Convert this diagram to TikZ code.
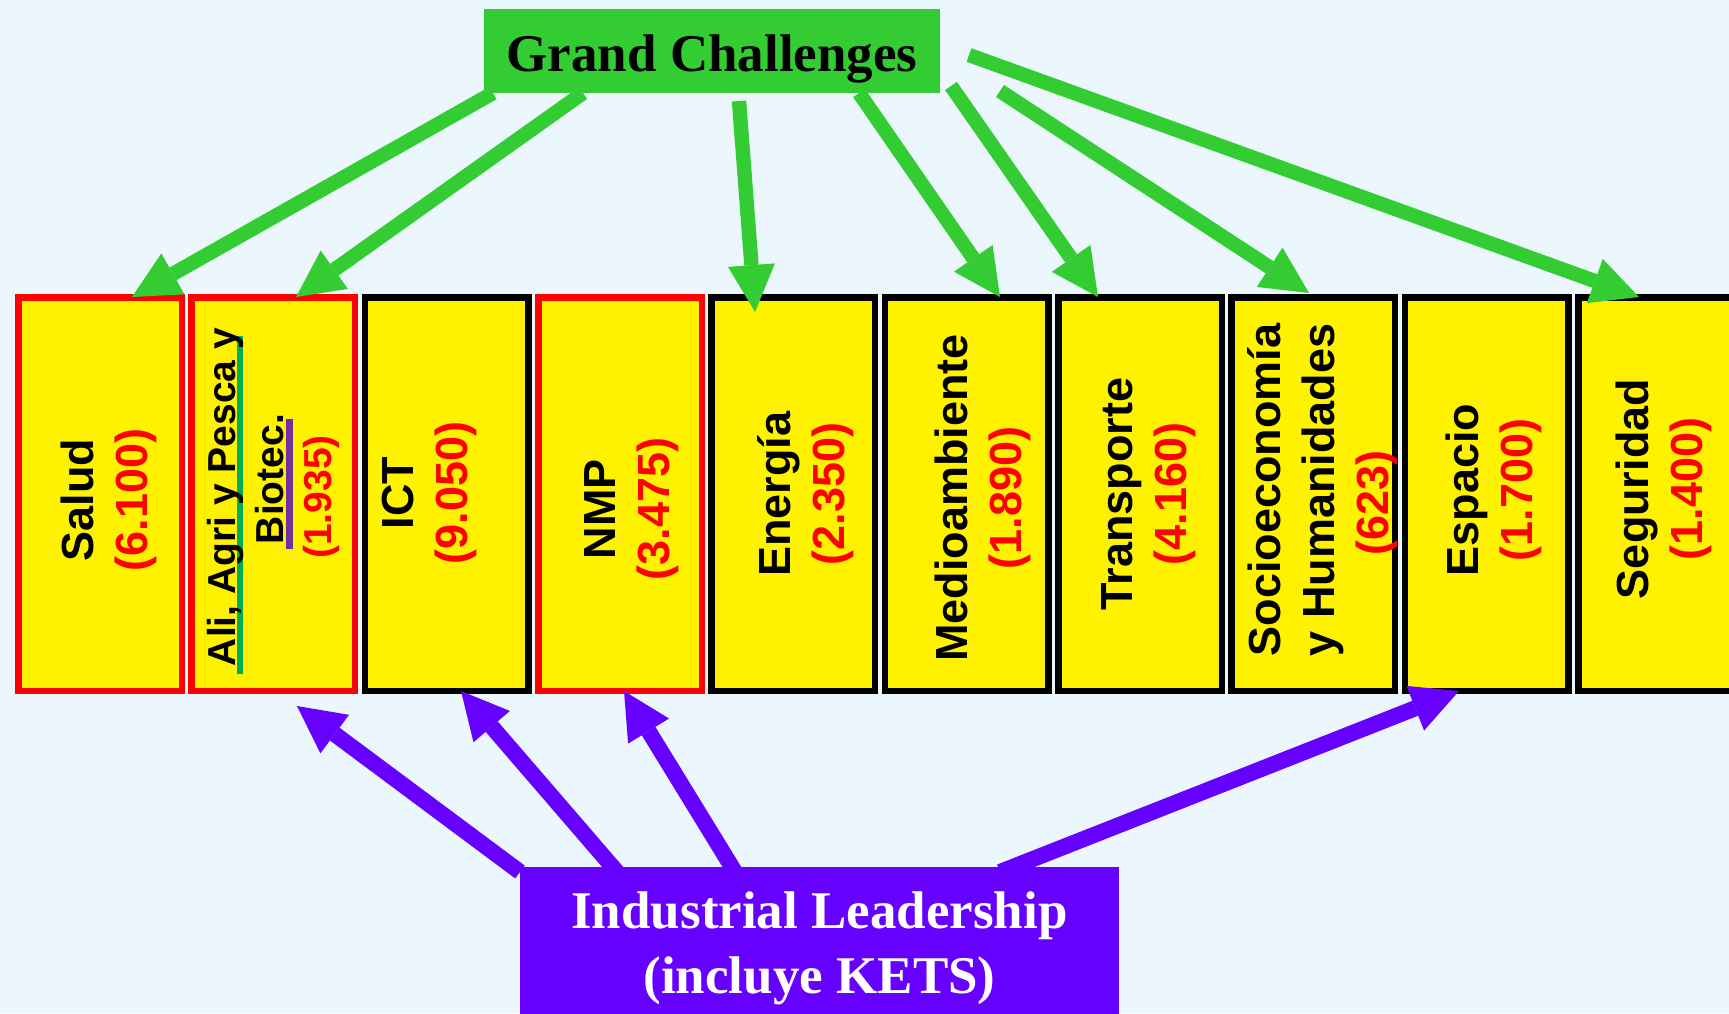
\documentclass[tikz,border=0pt]{standalone}
\usepackage{fontspec}
\usetikzlibrary{arrows.meta}
\newfontfamily\lsans{Liberation Sans}
\newfontfamily\lserif{Liberation Serif}
\definecolor{bgc}{RGB}{235,247,253}
\definecolor{gcgreen}{RGB}{51,204,51}
\definecolor{ilpurple}{RGB}{102,0,255}
\definecolor{ulgreen}{RGB}{0,176,80}
\definecolor{ulpurple}{RGB}{112,48,160}
\newcommand\colul[5]{\sbox0{#5}\rlap{\kern#2\textcolor{#1}{\rule[#3]{\wd0}{#4}}}\usebox0}
\begin{document}
\begin{tikzpicture}[x=0.5pt,y=-0.5pt,
  boxy/.style={draw, line width=3.25pt, fill=yellow, minimum width=81.75pt, minimum height=196.75pt, inner sep=0pt},
  redbox/.style={boxy, draw=red},
  blackbox/.style={boxy, draw=black},
  lab/.style={rotate=90, align=center, inner sep=0pt, font=\lsans\bfseries\fontsize{22.5pt}{27pt}\selectfont},
  smalllab/.style={lab, font=\lsans\bfseries\fontsize{19.5pt}{24pt}\selectfont},
  garrow/.style={draw=gcgreen, line width=7.2pt, -{Triangle[length=23.5pt,width=23.5pt,line width=0pt]}},
  parrow/.style={draw=ilpurple, line width=8pt, -{Triangle[length=23.5pt,width=24pt,line width=0pt]}}
]
\useasboundingbox (0,0) rectangle (1729,1013);
\fill[bgc] (0,0) rectangle (1729,1013);

% boxes
\node (b1) [redbox] at (100,494) {};
\node (b2) [redbox] at (273.3,494) {};
\node (b3) [blackbox] at (446.7,494) {};
\node (b4) [redbox] at (620,494) {};
\node (b5) [blackbox] at (793.3,494) {};
\node (b6) [blackbox] at (966.7,494) {};
\node (b7) [blackbox] at (1140,494) {};
\node (b8) [blackbox] at (1313.3,494) {};
\node (b9) [blackbox] at (1486.7,494) {};
\node (b10) [blackbox] at (1660,494) {};

% labels
\node (t1) [lab] at (109,500) {Salud\\\textcolor{red}{(6.100)}};
\node (t2) [smalllab] at (273,497) {\colul{ulgreen}{-4pt}{-4.15pt}{3pt}{Ali, Agri y Pesca y}\\\mbox{\kern18pt\colul{ulpurple}{-2.5pt}{-5pt}{3.5pt}{Biotec.}}\\\textcolor{red}{(1.935)}};
\node (t3) [lab] at (429,493) {ICT\\\textcolor{red}{(9.050)}};
\node (t4) [lab] at (632,509) {NMP\\\textcolor{red}{(3.475)}};
\node (t5) [lab] at (806,494) {Energía\\\textcolor{red}{(2.350)}};
\node (t6) [lab] at (983,498) {Medioambiente\\\textcolor{red}{(1.890)}};
\node (t7) [lab] at (1149,494) {Transporte\\\textcolor{red}{(4.160)}};
\node (t8) [lab] at (1323,490) {Socioeconomía\\y Humanidades\\\mbox{\textcolor{red}{(623)}\kern13pt}};
\node (t9) [lab] at (1494,490) {Espacio\\\textcolor{red}{(1.700)}};
\node (t10) [lab] at (1664,489) {Seguridad\\\textcolor{red}{(1.400)}};

% green arrow ends
\coordinate (g1s) at (493,93);  \coordinate (g1e) at (132,297);
\coordinate (g2s) at (583,93);  \coordinate (g2e) at (296,297);
\coordinate (g3s) at (739,101); \coordinate (g3e) at (755,312);
\coordinate (g4s) at (859,93);  \coordinate (g4e) at (1000,297);
\coordinate (g5s) at (951,86);  \coordinate (g5e) at (1098,297);
\coordinate (g6s) at (1000,91); \coordinate (g6e) at (1309,293);
\coordinate (g7s) at (969,55);  \coordinate (g7e) at (1639,297);
\foreach \i in {1,...,7} {\draw[garrow] (g\i s) -- (g\i e);}

\node (gc) [fill=gcgreen, minimum width=228pt, minimum height=42pt, inner sep=0pt, text height=22pt, text depth=2pt,
  font=\lserif\bfseries\fontsize{26.5pt}{30pt}\selectfont] at (712,51) {Grand Challenges};

% purple arrows
\coordinate (p1s) at (520,872);  \coordinate (p1e) at (297,706);
\coordinate (p2s) at (617,872);  \coordinate (p2e) at (461,691);
\coordinate (p3s) at (735,872);  \coordinate (p3e) at (624,691);
\coordinate (p4s) at (1000,872); \coordinate (p4e) at (1459,691);
\foreach \i in {1,...,4} {\draw[parrow] (p\i s) -- (p\i e);}

\node (il) [fill=ilpurple, text=white, align=center, minimum width=299.5pt, minimum height=81pt, inner sep=0pt,
  font=\lserif\bfseries\fontsize{26.5pt}{32.5pt}\selectfont] at (819.5,948) {Industrial Leadership\\(incluye KETS)};
\end{tikzpicture}
\end{document}
